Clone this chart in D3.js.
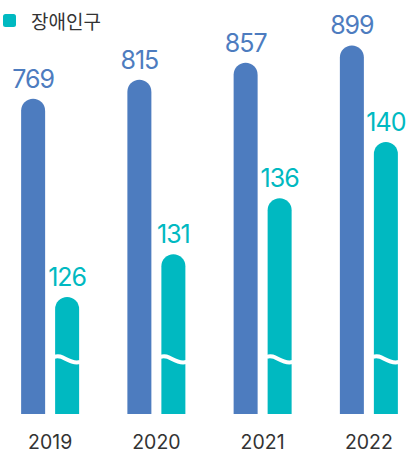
<!DOCTYPE html>
<html><head><meta charset="utf-8">
<script src="https://cdn.jsdelivr.net/npm/d3@7/dist/d3.min.js"></script>
<style>html,body{margin:0;padding:0;background:#fff;}svg{display:block;}</style>
</head><body>
<svg id="c" width="414" height="453"></svg>
<script>
const years = ["2019", "2020", "2021", "2022"];
const totalValues = [769, 815, 857, 899];
const disabledValues = [126, 131, 136, 140];
const legendLabel = "장애인구";

const W = 414, H = 453, base = 414;
const blue = "#4d7cbf", teal = "#00b9c1";
const svg = d3.select("#c");

const x = d3.scaleBand().domain(years).range([-3, 422]);
const inner = d3.scaleBand().domain(["total", "disabled"]).range([-29, 29]).paddingInner(10/34);
const yTotal = d3.scaleLinear().domain([0, 900]).range([base, 45]);
const yDis = d3.scalePow().exponent(8).domain([0, 140]).range([base, 142]);

function barPath(x0, w, top) {
  const r = w / 2;
  return `M${x0},${base}V${top + r}A${r},${r} 0 0 1 ${x0 + w},${top + r}V${base}Z`;
}

const series = [
  {key: "total", values: totalValues, y: yTotal, color: blue},
  {key: "disabled", values: disabledValues, y: yDis, color: teal}
];
const bw = inner.bandwidth();

series.forEach(s => {
  const g = svg.append("g");
  years.forEach((yr, i) => {
    const cx = x(yr) + x.bandwidth() / 2;
    const x0 = cx + inner(s.key);
    const top = s.y(s.values[i]);
    g.append("path").attr("d", barPath(x0, bw, top)).attr("fill", s.color);
    if (s.key === "disabled") {
      g.append("path")
        .attr("d", `M${x0 - 1},357 C${x0 + 8},353 ${x0 + 13},365 ${x0 + bw + 1},362`)
        .attr("fill", "none").attr("stroke", "#fff").attr("stroke-width", 4);
    }
    g.append("text")
      .attr("x", x0 + bw / 2).attr("y", top - 11)
      .attr("text-anchor", "middle")
      .attr("font-family", "Inter, 'Noto Sans', sans-serif")
      .attr("font-size", 25).attr("letter-spacing", -1)
      .attr("fill", s.color)
      .text(s.values[i]);
  });
});

const xAxis = svg.append("g").attr("transform", `translate(0,${base})`)
  .call(d3.axisBottom(x).tickSize(0).tickPadding(0));
xAxis.select(".domain").remove();
xAxis.selectAll("text")
  .attr("y", 35).attr("dy", 0)
  .attr("font-family", "Inter, 'Noto Sans', sans-serif")
  .attr("font-size", 19.5).attr("fill", "#333");

svg.append("rect").attr("x", 3).attr("y", 14).attr("width", 13).attr("height", 13)
  .attr("rx", 2.5).attr("fill", teal);
svg.append("text").attr("x", 31).attr("y", 29)
  .attr("font-family", "'Noto Sans CJK KR', sans-serif")
  .attr("font-size", 19).attr("fill", "#333")
  .text(legendLabel);
</script>
</body></html>
